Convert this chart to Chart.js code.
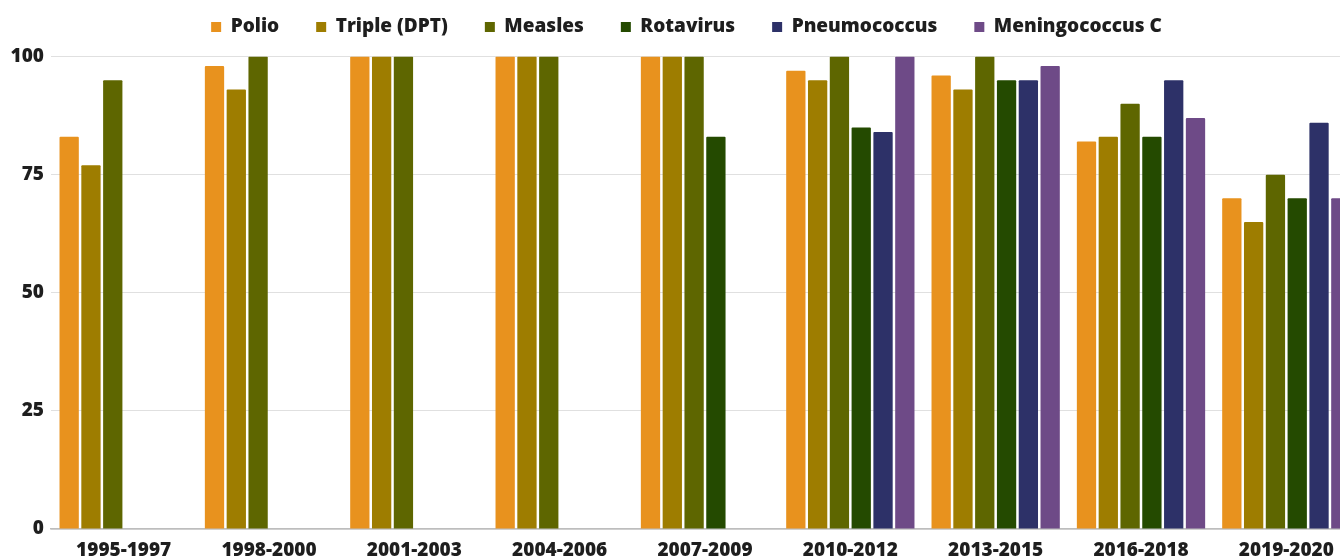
<!DOCTYPE html>
<html>
<head>
<meta charset="utf-8">
<script src="https://cdn.jsdelivr.net/npm/chart.js@4/dist/chart.umd.min.js"></script>
<style>
  html, body { margin: 0; padding: 0; background: #ffffff; overflow: hidden; }
  #wrap { position: relative; width: 1360px; height: 560px; }
</style>
</head>
<body>
<div id="wrap"><canvas id="c"></canvas></div>
<script>
const categories = ["1995-1997", "1998-2000", "2001-2003", "2004-2006", "2007-2009", "2010-2012", "2013-2015", "2016-2018", "2019-2020"];
const polio        = [83, 98, 100, 100, 100, 97, 96, 82, 70];
const tripleDPT    = [77, 93, 100, 100, 100, 95, 93, 83, 65];
const measles      = [95, 100, 100, 100, 100, 100, 100, 90, 75];
const rotavirus    = [null, null, null, null, 83, 85, 95, 83, 70];
const pneumococcus = [null, null, null, null, null, 84, 95, 95, 86];
const meningococcusC = [null, null, null, null, null, 100, 98, 87, 70];
const yTicks = [0, 25, 50, 75, 100];

const FONT = "'Open Sans', 'Noto Sans', sans-serif";
const W = 800;

const legendPatch = {
  id: 'legendPatch',
  beforeLayout(chart) {
    const lg = chart.legend;
    if (lg && !lg._patched) {
      const f = lg.fit;
      lg.fit = function () { f.call(this); this.height = 56.5; };
      lg._patched = true;
    }
  },
  afterLayout(chart) {
    const lg = chart.legend;
    if (lg) {
      lg.top -= 19.5; lg.bottom -= 19.5;
      lg.left += 7; lg.right += 7;
    }
  }
};

const mk = (label, data, color) => ({
  label, data, backgroundColor: color, borderWidth: 0, borderRadius: 1,
  categoryPercentage: 0.9, barPercentage: 0.885
});

new Chart(document.getElementById('c'), {
  type: 'bar',
  data: {
    labels: categories,
    datasets: [
      mk('Polio', polio, '#E8921E'),
      mk('Triple (DPT)', tripleDPT, '#9E7D00'),
      mk('Measles', measles, '#5E6600'),
      mk('Rotavirus', rotavirus, '#244A00'),
      mk('Pneumococcus', pneumococcus, '#2D3168'),
      mk('Meningococcus C', meningococcusC, '#6E4A87')
    ]
  },
  plugins: [legendPatch],
  options: {
    responsive: true,
    maintainAspectRatio: false,
    animation: false,
    layout: { padding: { left: 0, right: 1, top: 0, bottom: 0 } },
    plugins: {
      tooltip: { enabled: false },
      legend: {
        position: 'top',
        labels: {
          boxWidth: 10, boxHeight: 10, padding: 37,
          color: '#1e1e1e',
          font: { family: FONT, size: 19, weight: W }
        }
      }
    },
    scales: {
      x: {
        grid: { display: false, drawTicks: false },
        border: { display: true, color: '#bdbdbd', width: 1.5 },
        ticks: {
          color: '#1e1e1e', padding: 10, maxRotation: 0, autoSkip: false,
          font: { family: FONT, size: 19, weight: W }
        },
        afterFit(scale) { scale.height = 31; }
      },
      y: {
        min: 0, max: 100,
        afterBuildTicks(scale) { scale.ticks = yTicks.map(v => ({ value: v })); },
        grid: { color: '#e0e0e0', lineWidth: 1, drawTicks: false },
        border: { display: false },
        ticks: {
          color: '#1e1e1e', padding: 7,
          font: { family: FONT, size: 19, weight: W }
        },
        afterFit(scale) { scale.width = 51; }
      }
    }
  }
});
</script>
</body>
</html>
